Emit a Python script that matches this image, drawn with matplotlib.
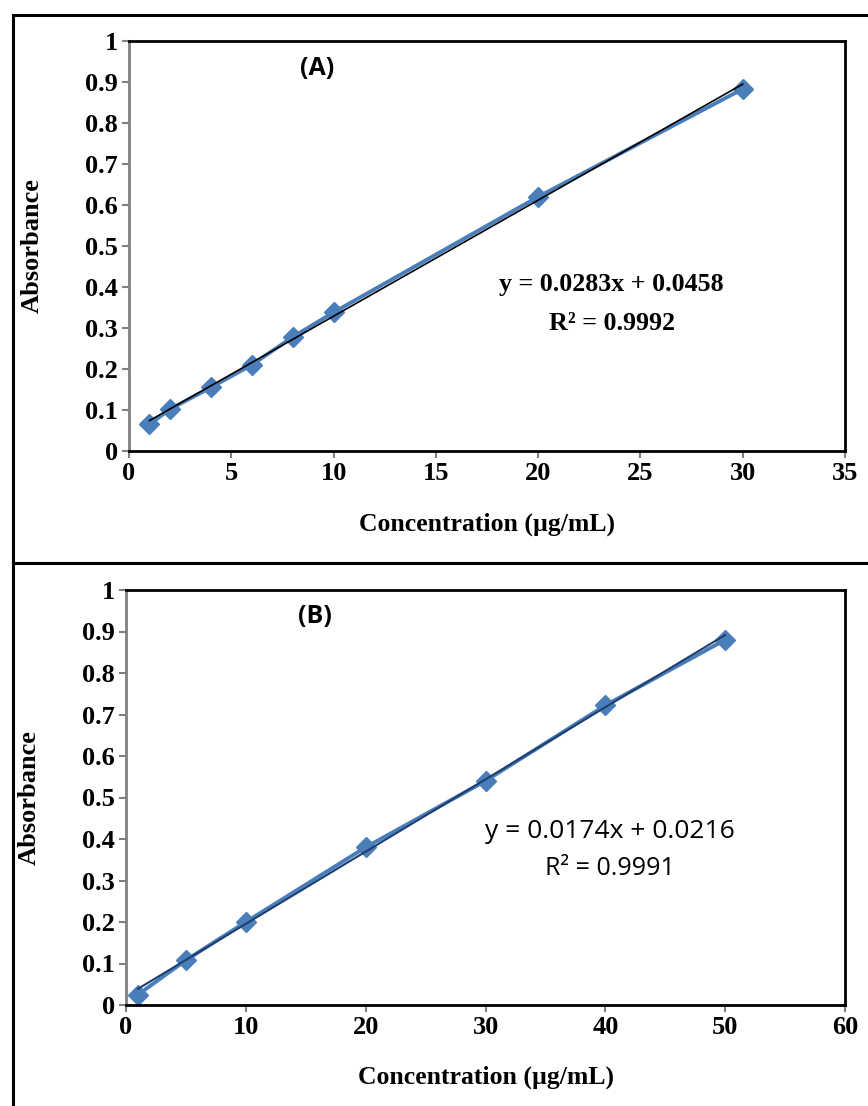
import matplotlib
matplotlib.use("Agg")
import numpy as np
import matplotlib.pyplot as plt
from matplotlib.lines import Line2D
from matplotlib.ticker import FuncFormatter

# ---------- data ----------
conc_a = [1, 2, 4, 6, 8, 10, 20, 30]
abs_a = [0.065, 0.102, 0.155, 0.210, 0.278, 0.338, 0.620, 0.883]
slope_a, icpt_a = 0.0283, 0.0458
eq_a = "y = 0.0283x + 0.0458"
r2_a = "R² = 0.9992"

conc_b = [1, 5, 10, 20, 30, 40, 50]
abs_b = [0.025, 0.108, 0.200, 0.380, 0.540, 0.722, 0.880]
slope_b, icpt_b = 0.0174, 0.0216
eq_b = "y = 0.0174x + 0.0216"
r2_b = "R² = 0.9991"

yticks = [0, 0.1, 0.2, 0.3, 0.4, 0.5, 0.6, 0.7, 0.8, 0.9, 1]
xticks_a = [0, 5, 10, 15, 20, 25, 30, 35]
xticks_b = [0, 10, 20, 30, 40, 50, 60]

W, H = 868, 1106
serif = "Liberation Serif"
sans = "Open Sans"
blue = "#4A7EBB"


def style_axes(ax, xticks, xlab_y):
    ax.set_ylim(0, 1)
    ax.set_yticks(yticks)
    ax.set_xticks(xticks)
    ax.set_xlim(xticks[0], xticks[-1])
    ax.yaxis.set_major_formatter(FuncFormatter(lambda v, p: f"{v:g}"))
    ax.tick_params(direction="out", length=5, width=1.5, color="#808080", pad=3)
    for lab in ax.get_xticklabels() + ax.get_yticklabels():
        lab.set_fontfamily(serif)
        lab.set_fontweight("bold")
        lab.set_fontsize(19)
    for side in ["top", "right", "bottom"]:
        ax.spines[side].set_color("black")
        ax.spines[side].set_linewidth(2)
    ax.spines["left"].set_color("#808080")
    ax.spines["left"].set_linewidth(2)
    ax.set_xlabel("Concentration (µg/mL)", fontfamily=serif, fontweight="bold", fontsize=18.5)
    ax.set_ylabel("Absorbance", fontfamily=serif, fontweight="bold", fontsize=19)
    ax.xaxis.set_label_coords(0.5, xlab_y)
    ax.yaxis.set_label_coords(-0.119, 0.5)


fig = plt.figure(figsize=(W / 100, H / 100), dpi=100)

# outer frame lines
lw_frame = 2.2
fig.add_artist(Line2D([13 / W, 13 / W], [0, 1 - 15 / H], color="black", lw=lw_frame))
fig.add_artist(Line2D([13 / W, 1], [1 - 15 / H, 1 - 15 / H], color="black", lw=lw_frame))
fig.add_artist(Line2D([13 / W, 1], [1 - 563 / H, 1 - 563 / H], color="black", lw=lw_frame))

# Panel A
axA = fig.add_axes([129 / W, 1 - 451 / H, 716 / W, 410 / H])
xa = np.array([conc_a[0], conc_a[-1]])
axA.plot(conc_a, abs_a, color=blue, lw=2.8, marker="D", markersize=10, zorder=2)
axA.plot(xa, slope_a * xa + icpt_a, color="black", lw=1.2, zorder=3)
style_axes(axA, xticks_a, -0.149)
axA.text(9.2, 0.934, "(A)", fontfamily=sans, fontweight="bold", fontsize=18,
         ha="center", va="center")
axA.text(23.6, 0.405, eq_a, fontfamily=serif, fontweight="bold", fontsize=18.75,
         ha="center", va="center")
axA.text(23.6, 0.312, r2_a, fontfamily=serif, fontweight="bold", fontsize=18.75,
         ha="center", va="center")

# Panel B
axB = fig.add_axes([126 / W, 1 - 1005 / H, 719 / W, 415 / H])
xb = np.array([conc_b[0], conc_b[-1]])
axB.plot(conc_b, abs_b, color=blue, lw=2.8, marker="D", markersize=10, zorder=2)
axB.plot(xb, slope_b * xb + icpt_b, color="#1F3F6E", lw=1.5, zorder=3)
style_axes(axB, xticks_b, -0.145)
axB.text(15.8, 0.935, "(B)", fontfamily=sans, fontweight="bold", fontsize=18,
         ha="center", va="center")
axB.text(40.4, 0.419, eq_b, fontfamily=sans, fontsize=19,
         ha="center", va="center")
axB.text(40.4, 0.330, r2_b, fontfamily=sans, fontsize=18,
         ha="center", va="center")

fig.savefig("out.png", dpi=100)
